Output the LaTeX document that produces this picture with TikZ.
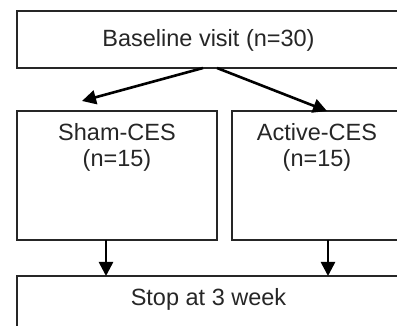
\documentclass[tikz,border=0pt]{standalone}
\usepackage{fontspec}
\setmainfont{Liberation Sans}
\usetikzlibrary{arrows.meta,calc}
\begin{document}
\begin{tikzpicture}[x=1pt,y=-1pt,
  box/.style={draw=black!85, line width=1.7pt, inner sep=0pt, outer sep=0pt, anchor=north west},
  txt/.style={font=\fontsize{23.5}{25.5}\selectfont, inner sep=0pt, align=center, text=black!85},
  arr/.style={line width=2.6pt, -{Triangle[length=14pt,width=14pt]}}]
\useasboundingbox (0,0) rectangle (397,326);
\clip (0,0) rectangle (397,326);
% boxes
\node[box, minimum width=383pt, minimum height=57pt] (base) at (17,11) {};
\node[box, minimum width=200pt, minimum height=129pt] (sham) at (17,111) {};
\node[box, minimum width=170pt, minimum height=129pt] (act) at (232,111) {};
\node[box, minimum width=383pt, minimum height=80pt] (stop) at (17,276) {};
% texts
\node[txt, anchor=base] (basetxt) at (208.5,46.5) {Baseline visit (n=30)};
\node[txt, anchor=north] (shamtxt) at (117,123.5) {Sham-CES\\(n=15)};
\node[txt, anchor=north] (acttxt) at (317,123.5) {Active-CES\\(n=15)};
\node[txt, anchor=base] (stoptxt) at (208.5,306) {Stop at 3 week};
% connectors
\draw[arr] ([xshift=-5.5pt]base.south) -- ($(sham.north west)+(65,-10)$);
\draw[arr] ([xshift=8.5pt]base.south) -- ($(act.north west)+(95,0)$);
\draw[arr] ([xshift=-11pt]sham.south) -- ([xshift=-11pt]sham.south |- stop.north);
\draw[arr] ([xshift=11pt]act.south) -- ([xshift=11pt]act.south |- stop.north);
\end{tikzpicture}
\end{document}
